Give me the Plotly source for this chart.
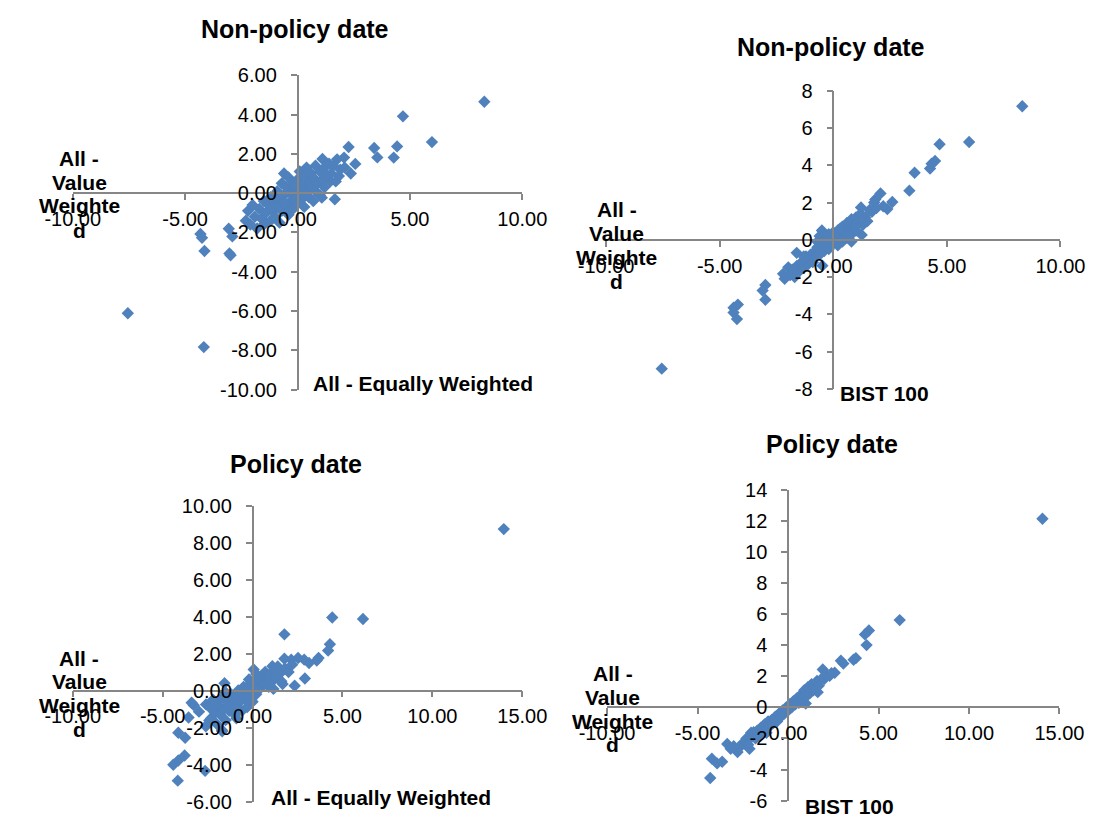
import plotly.graph_objects as go

# ---- Non-policy dates: All - Value Weighted vs All - Equally Weighted ----
nonpolicy_ew_x = [
    8.31, 4.69, 5.98, 4.43, 4.28, 3.41, 3.55, 2.27, 2.57, 2.37, 2.07, 1.76, 1.11, 1.66, 1.08, 1.84, 1.46,
    -7.55, -4.17, -4.14, -4.32, -4.25, -3.03, -2.98, -3.06, -2.90,
    -2.3, -2.2, -2.1, -2.0, -1.9, -1.8, -1.7, -1.6, -1.5, -1.5, -1.4, -1.3, -1.2, -1.2, -1.1, -1.0, -1.0,
    -0.9, -0.9, -0.8, -0.8, -0.7, -0.7, -0.6, -0.6, -0.5, -0.5, -0.4, -0.4, -0.3, -0.3, -0.2, -0.2, -0.1,
    -0.1, 0.0, 0.0, 0.1, 0.1, 0.2, 0.2, 0.3, 0.3, 0.4, 0.4, 0.5, 0.5, 0.6, 0.6, 0.7, 0.7, 0.8, 0.8, 0.9,
    1.0, 1.0, 1.1, 1.2, 1.2, 1.3, 1.4, 1.5, 1.6, 1.7, 1.9, 2.1, 0.2, -0.1, 0.4, -0.6,
]
nonpolicy_ew_y = [
    4.65, 3.91, 2.60, 2.38, 1.81, 2.30, 1.82, 2.35, 1.49, 1.00, 1.81, 1.72, 1.74, -0.31, -0.23, 0.87, 0.60,
    -6.11, -7.83, -2.94, -2.08, -2.27, -3.07, -3.16, -1.81, -2.20,
    -1.4, -0.9, -1.6, -0.6, -1.2, -1.8, -0.8, -1.3, -0.4, -1.6, -1.0, -0.6, -1.4, -0.2, -0.9, -0.5, -1.2,
    0.1, -0.7, -1.5, -0.3, 0.5, -0.9, 1.0, -0.1, -0.6, 0.3, 0.8, -1.1, 0.0, -0.4, 0.5, -0.8, 0.2,
    -0.2, 0.7, -0.5, 0.1, 1.1, -0.3, 0.4, 0.9, -0.7, 0.2, 1.3, 0.6, -0.2, 1.0, 0.3, -0.4, 0.8, 1.4, 0.1, 0.5,
    1.1, -0.1, 0.7, 1.3, 0.3, 0.9, 1.5, 1.0, 1.4, 0.6, 1.2, 1.3, 0.0, 0.4, -0.1, -0.5,
]

# ---- Non-policy dates: All - Value Weighted vs BIST 100 ----
nonpolicy_bist_x = [
    8.32, 5.98, 4.68, 4.48, 4.33, 4.26, 3.58, 3.35, 2.60, 2.08, 1.85, 2.38, 2.20, 1.22, 1.25, 0.80, -0.48,
    -7.55, -4.39, -4.20, -4.39, -4.24, -2.99, -3.11, -2.99, -2.14, -2.21, -1.98, -1.61,
    -1.9, -1.8, -1.7, -1.6, -1.5, -1.4, -1.3, -1.2, -1.1, -1.0, -1.0, -0.9, -0.8, -0.8, -0.7, -0.6, -0.6,
    -0.5, -0.5, -0.4, -0.3, -0.3, -0.2, -0.2, -0.1, 0.0, 0.0, 0.1, 0.2, 0.2, 0.3, 0.4, 0.4, 0.5, 0.6, 0.6,
    0.7, 0.8, 0.8, 0.9, 1.0, 1.0, 1.1, 1.2, 1.3, 1.4, 1.5, 1.6, 1.7, 1.8, 1.9, -0.7, 0.3, -1.3,
]
nonpolicy_bist_y = [
    7.17, 5.25, 5.13, 4.23, 4.09, 3.83, 3.60, 2.64, 2.03, 2.49, 2.17, 1.65, 1.80, 1.74, 0.26, -0.09, -1.39,
    -6.92, -3.65, -3.48, -3.91, -4.26, -2.43, -2.73, -3.22, -2.09, -1.83, -1.48, -0.70,
    -1.9, -1.6, -2.0, -1.4, -1.7, -1.2, -1.5, -0.9, -1.3, -0.8, -1.1, -1.2, -0.6, -0.9, -0.4, -0.8, 0.2,
    -0.3, 0.5, -0.6, 0.1, -0.3, 0.3, -0.5, 0.0, 0.4, -0.2, 0.1, 0.5, -0.3, 0.2, 0.7, -0.1, 0.4, 0.9, 0.1,
    0.5, 1.1, 0.3, 0.7, 1.2, 0.5, 0.9, 1.4, 0.8, 1.2, 1.0, 1.6, 1.5, 2.0, 1.7, -0.1, 0.6, -0.9,
]

# ---- Policy dates: All - Value Weighted vs All - Equally Weighted ----
policy_ew_x = [
    13.97, 4.43, 6.14, 1.77, 4.30, 4.20, 3.67, 3.57, 3.14, 2.87, 2.53, 2.15, 1.77, 2.91, 2.34, 1.67, 1.16,
    1.10, 0.06, -1.56, -4.16, -4.41, -4.13, -3.78, -2.64, -4.13, -3.75, -3.27, -3.56, -2.98, -2.60, -1.69,
    -3.39, -2.59, -2.41, -1.70,
    -2.4, -2.3, -2.2, -2.1, -2.0, -1.9, -1.8, -1.7, -1.6, -1.5, -1.4, -1.3, -1.2, -1.1, -1.0, -1.0, -0.9,
    -0.8, -0.7, -0.6, -0.6, -0.5, -0.4, -0.3, -0.3, -0.2, -0.1, 0.0, 0.0, 0.1, 0.2, 0.3, 0.4, 0.5, 0.6,
    0.7, 0.8, 0.9, 1.0, 1.1, 1.2, 1.3, 1.4, 1.5, 1.6, 1.8, 2.0, 2.2, 0.2, -0.2, -1.5, -0.9,
]
policy_ew_y = [
    8.73, 3.95, 3.87, 3.04, 2.50, 2.16, 1.76, 1.62, 1.49, 1.67, 1.76, 1.67, 1.72, 0.65, 0.26, 0.35, 0.09,
    1.32, 1.14, 0.40, -4.87, -4.01, -3.78, -3.51, -4.34, -2.28, -2.55, -0.79, -1.46, -1.14, -1.93, -2.20,
    -0.66, -0.75, -1.62, -2.14,
    -0.9, -1.5, -0.5, -1.2, -1.8, -0.8, -1.3, -0.4, -1.0, -1.6, -0.6, -1.1, -0.2, -0.8, -1.3, -0.4, -0.9,
    0.0, -0.6, -1.1, -0.2, 0.2, -0.5, -0.9, 0.1, -0.3, 0.4, -0.6, 0.0, 0.3, -0.2, 0.6, 0.1, 0.8, 0.4,
    1.0, 0.6, 0.2, 0.9, 0.5, 1.1, 0.7, 1.3, 0.9, 0.5, 1.2, 1.0, 1.4, 0.9, 0.6, -0.1, -1.5,
]

# ---- Policy dates: All - Value Weighted vs BIST 100 ----
policy_bist_x = [
    14.06, 6.17, 4.47, 4.25, 4.34, 3.62, 3.75, 2.92, 3.06, 2.58, 2.30, 1.92, 2.00, 1.64, 0.98,
    -4.30, -4.21, -3.92, -3.64, -3.36, -3.17, -2.79, -2.13, -2.04, -1.19,
    -2.5, -2.3, -2.2, -2.0, -1.9, -1.8, -1.7, -1.6, -1.5, -1.4, -1.3, -1.2, -1.1, -1.0, -0.9, -0.8, -0.7,
    -0.6, -0.5, -0.4, -0.3, -0.2, -0.1, 0.0, 0.1, 0.2, 0.3, 0.4, 0.5, 0.6, 0.7, 0.8, 0.9, 1.0, 1.1, 1.2,
    1.3, 1.4, 1.5, 1.6, 1.7, 1.9, 2.1, 2.4, -2.7, -3.0,
]
policy_bist_y = [
    12.15, 5.62, 4.95, 4.70, 4.01, 3.07, 3.17, 3.01, 2.82, 2.23, 2.03, 2.44, 1.82, 0.98, 0.25,
    -4.55, -3.30, -3.61, -3.50, -2.36, -2.67, -2.88, -2.67, -1.63, -1.63,
    -2.3, -2.0, -2.4, -1.9, -1.6, -2.0, -1.5, -1.8, -1.3, -1.6, -1.1, -1.4, -0.9, -1.2, -0.8, -1.0, -0.6,
    -0.9, -0.4, -0.6, -0.2, -0.4, 0.0, -0.2, 0.2, 0.0, 0.4, 0.2, 0.6, 0.3, 0.8, 0.5, 1.1, 0.7, 1.3, 0.9,
    1.5, 1.1, 1.3, 1.7, 1.4, 1.9, 2.1, 2.2, -2.6, -2.5,
]

panel_titles = ["Non-policy date", "Non-policy date", "Policy date", "Policy date"]
x_titles = ["All - Equally Weighted", "BIST 100", "All - Equally Weighted", "BIST 100"]
y_title_lines = ["All -", "Value", "Weighte", "d"]

W, H = 1114, 832
MARKER_COLOR = "#4F81BD"
AXIS_COLOR = "#868686"
FONT = "Arial, Liberation Sans, sans-serif"


def fx(px):
    return px / W


def fy(py):
    return 1 - py / H


def tick_labels(lo, hi, step, fmt):
    # plain hyphen-minus labels, as in a spreadsheet chart
    vals = list(range(lo, hi + 1, step))
    return vals, [format(v, fmt) for v in vals]


# Panel geometry in pixels: plot box (x0, x1, ytop, ybottom), axis ranges, label formats
panels = [
    dict(x=nonpolicy_ew_x, y=nonpolicy_ew_y, box=(47, 519, 66, 389), xr=(-10, 10), yr=(-10, 6),
         yfmt=".2f", title_xy=(280, 18), xt_xy=(297, 383), yt_x=54, yt_y=(152, 176, 200, 225)),
    dict(x=nonpolicy_bist_x, y=nonpolicy_bist_y, box=(607, 1084, 82, 388), xr=(-10, 10), yr=(-8, 8),
         yfmt="d", title_xy=(843, 37), xt_xy=(850, 393), yt_x=618, yt_y=(204, 229, 253, 278)),
    dict(x=policy_ew_x, y=policy_ew_y, box=(47, 519, 508, 812), xr=(-10, 15), yr=(-6, 10),
         yfmt=".2f", title_xy=(281, 465), xt_xy=(253, 808), yt_x=54, yt_y=(665, 689, 713, 738)),
    dict(x=policy_bist_x, y=policy_bist_y, box=(608, 1083, 492, 811), xr=(-10, 15), yr=(-6, 14),
         yfmt="d", title_xy=(844, 445), xt_xy=(814, 817), yt_x=614, yt_y=(681, 705, 730, 753)),
]

fig = go.Figure()
layout = dict(
    width=W, height=H, margin=dict(l=0, r=0, t=0, b=0),
    paper_bgcolor="white", plot_bgcolor="white", showlegend=False,
    font=dict(family=FONT, color="black"),
)
annotations = []

for i, p in enumerate(panels, start=1):
    x0, x1, yt, yb = p["box"]
    xdom = [fx(x0), fx(x1)]
    ydom = [fy(yb), fy(yt)]
    # where the zero lines fall, so the axes cross at the origin
    zx = xdom[0] + (0 - p["xr"][0]) / (p["xr"][1] - p["xr"][0]) * (xdom[1] - xdom[0])
    zy = ydom[0] + (0 - p["yr"][0]) / (p["yr"][1] - p["yr"][0]) * (ydom[1] - ydom[0])
    sx = "" if i == 1 else str(i)
    xtv, xtt = tick_labels(p["xr"][0], p["xr"][1], 5, ".2f")
    ytv, ytt = tick_labels(p["yr"][0], p["yr"][1], 2, p["yfmt"])
    fig.add_trace(go.Scatter(
        x=p["x"], y=p["y"], mode="markers", xaxis="x" + sx, yaxis="y" + sx,
        marker=dict(symbol="diamond", size=9.5, color=MARKER_COLOR, line=dict(width=0)),
        hoverinfo="x+y",
    ))
    layout["xaxis" + sx] = dict(
        domain=xdom, range=list(p["xr"]), anchor="free", position=zy,
        tickmode="array", tickvals=xtv, ticktext=xtt, ticks="outside", ticklen=6, tickwidth=1.5,
        tickcolor=AXIS_COLOR, showline=True, linecolor=AXIS_COLOR, linewidth=1.5,
        showgrid=False, zeroline=False, tickangle=0, ticklabelstandoff=2,
        tickfont=dict(size=20, family=FONT, color="black"), layer="above traces",
    )
    layout["yaxis" + sx] = dict(
        domain=ydom, range=list(p["yr"]), anchor="free", position=zx,
        tickmode="array", tickvals=ytv, ticktext=ytt, ticks="outside", ticklen=6, tickwidth=1.5,
        tickcolor=AXIS_COLOR, showline=True, linecolor=AXIS_COLOR, linewidth=1.5,
        showgrid=False, zeroline=False, ticklabelstandoff=10,
        tickfont=dict(size=20, family=FONT, color="black"), layer="above traces",
    )
    tx, ty = p["title_xy"]
    annotations.append(dict(
        text="<b>%s</b>" % panel_titles[i - 1], x=fx(tx), y=fy(ty), xref="paper", yref="paper",
        xanchor="center", yanchor="middle", showarrow=False, font=dict(size=25, family=FONT),
    ))
    ax, ay = p["xt_xy"]
    annotations.append(dict(
        text="<b>%s</b>" % x_titles[i - 1], x=fx(ax), y=fy(ay), xref="paper", yref="paper",
        xanchor="left", yanchor="middle", showarrow=False, font=dict(size=21, family=FONT),
    ))
    for line, ly in zip(y_title_lines, p["yt_y"]):
        annotations.append(dict(
            text="<b>%s</b>" % line, x=fx(p["yt_x"]), y=fy(ly), xref="paper", yref="paper",
            xanchor="center", yanchor="middle", showarrow=False, font=dict(size=21, family=FONT),
        ))

layout["annotations"] = annotations
fig.update_layout(**layout)
fig.write_html("out.html")
